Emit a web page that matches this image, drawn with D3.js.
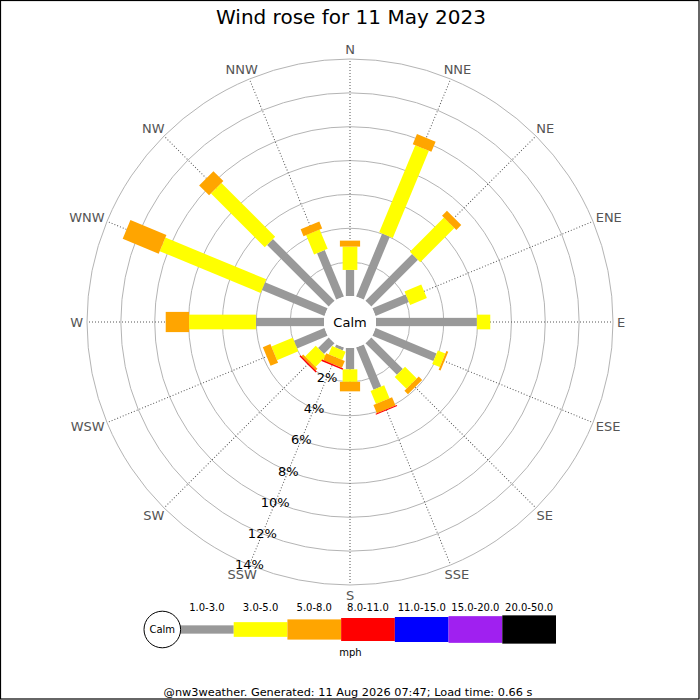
<!DOCTYPE html>
<html>
    <head>
        <title>Wind rose</title>
        <meta charset="utf-8">
        <style>
            html, body {
                margin: 0px;
                padding: 0px;
                background-color: #fff;
                font-family: "DejaVu Sans", sans-serif;
            }

            svg {
                display: block;
            }

            svg .ring {
                fill: none;
                stroke: #b4b4b4;
                stroke-width: 1px;
            }

            svg .spoke {
                stroke: #555;
                stroke-width: 1px;
                stroke-dasharray: 1, 2;
            }

            svg .dirLabel {
                fill: #555;
                font-size: 13px;
            }

            svg .pctLabel {
                fill: #000;
                font-size: 13px;
            }

            svg .legendLabel {
                fill: #000;
                font-size: 10px;
            }
        </style>
        <script src="https://cdn.jsdelivr.net/npm/d3@7"></script>
    </head>
    <body>
        <div id="main"></div>

        <script>
            // data, % of the day per direction and speed band
            var directions = ["N", "NNE", "NE", "ENE", "E", "ESE", "SE", "SSE",
                              "S", "SSW", "SW", "WSW", "W", "WNW", "NW", "NNW"];
            var speedBands = ["1.0-3.0", "3.0-5.0", "5.0-8.0", "8.0-11.0", "11.0-15.0", "15.0-20.0", "20.0-50.0"];
            var band1 = [1.54, 4.02, 3.90, 2.13, 5.96, 3.90, 2.63, 2.69, 1.26, 0.18, 0.89, 1.95, 4.02, 4.00, 5.15, 2.96];
            var band2 = [1.38, 5.57, 2.85, 1.07, 0.79, 0.48, 0.98, 0.83, 0.74, 0.53, 0.89, 1.36, 3.95, 6.45, 4.49, 1.24];
            var band3 = [0.35, 0.65, 0.41, 0.00, 0.00, 0.12, 0.29, 0.53, 0.56, 0.44, 0.14, 0.48, 1.38, 2.30, 0.83, 0.44];
            var band4 = [0.00, 0.00, 0.00, 0.00, 0.00, 0.00, 0.00, 0.06, 0.00, 0.09, 0.09, 0.00, 0.00, 0.00, 0.00, 0.00];
            var pctTicks = [2, 4, 6, 8, 10, 12, 14];

            var title = "Wind rose for 11 May 2023";
            var footer = "@nw3weather. Generated: 11 Aug 2026 07:47; Load time: 0.66 s";

            // styling
            var bandColors = ["#999999", "#ffff00", "#ffa500", "#ff0000", "#0000ff", "#a020f0", "#000000"];
            var bandWidths = [8.3, 14.7, 20.2, 23, 25, 26.7, 28.3];

            var width = 700;
            var height = 700;
            var cx = 350;
            var cy = 322;
            var calmRadius = 26;
            var outerRadius = 263;

            function rose(svg) {
                var keys = ["b1", "b2", "b3", "b4"];
                var table = directions.map(function(d, i) {
                    return { dir: d, b1: band1[i], b2: band2[i], b3: band3[i], b4: band4[i] };
                });
                var stacked = d3.stack().keys(keys)(table);

                var r = d3.scaleLinear()
                    .domain([0, d3.max(pctTicks)])
                    .range([calmRadius, outerRadius]);
                var angle = d3.scaleLinear()
                    .domain([0, directions.length])
                    .range([0, 360]);

                var g = svg.append("g")
                    .attr("transform", "translate(" + cx + "," + cy + ")");

                g.selectAll(".ring")
                    .data(pctTicks)
                    .enter()
                    .append("circle")
                    .attr("class", "ring")
                    .attr("r", function(d) { return r(d); });

                g.selectAll(".spoke")
                    .data(directions)
                    .enter()
                    .append("line")
                    .attr("class", "spoke")
                    .attr("transform", function(d, i) { return "rotate(" + angle(i) + ")"; })
                    .attr("y1", -calmRadius)
                    .attr("y2", -r(d3.max(pctTicks)));

                var layers = g.selectAll(".layer")
                    .data(stacked)
                    .enter()
                    .append("g")
                    .attr("class", "layer")
                    .attr("fill", function(d, k) { return bandColors[k]; });

                layers.selectAll("rect")
                    .data(function(d, k) {
                        return d.filter(function(s) { return s[1] - s[0] > 0; })
                                .map(function(s) { return { s: s, k: k, i: directions.indexOf(s.data.dir) }; });
                    })
                    .enter()
                    .append("rect")
                    .attr("transform", function(d) { return "rotate(" + angle(d.i) + ")"; })
                    .attr("x", function(d) { return -bandWidths[d.k] / 2; })
                    .attr("width", function(d) { return bandWidths[d.k]; })
                    .attr("y", function(d) { return -r(d.s[1]); })
                    .attr("height", function(d) { return r(d.s[1]) - r(d.s[0]); });

                g.append("circle")
                    .attr("r", calmRadius)
                    .attr("fill", "#fff");

                g.append("text")
                    .attr("text-anchor", "middle")
                    .attr("dominant-baseline", "central")
                    .style("font-size", "13px")
                    .text("Calm");

                // percentage labels along the SSW spoke
                var labelAngle = angle(directions.indexOf("SSW")) * Math.PI / 180;
                g.selectAll(".pctLabel")
                    .data(pctTicks)
                    .enter()
                    .append("text")
                    .attr("class", "pctLabel")
                    .attr("text-anchor", "middle")
                    .attr("dominant-baseline", "central")
                    .attr("x", function(d) { return Math.sin(labelAngle) * r(d); })
                    .attr("y", function(d) { return -Math.cos(labelAngle) * r(d); })
                    .text(function(d) { return d + "%"; });

                // compass labels just outside the rim
                var labelR = outerRadius + 4;
                g.selectAll(".dirLabel")
                    .data(directions)
                    .enter()
                    .append("text")
                    .attr("class", "dirLabel")
                    .attr("text-anchor", "middle")
                    .attr("dominant-baseline", "central")
                    .text(function(d) { return d; })
                    .each(function(d, i) {
                        var a = angle(i) * Math.PI / 180;
                        var w = this.getComputedTextLength();
                        d3.select(this)
                            .attr("x", Math.sin(a) * labelR + Math.sin(a) * w / 2)
                            .attr("y", -Math.cos(a) * labelR - Math.cos(a) * 6);
                    });
            }

            function legend(svg) {
                var x = d3.scaleBand()
                    .domain(speedBands)
                    .range([180, 556]);
                var midY = 629.5;

                var lg = svg.append("g");

                lg.selectAll("rect")
                    .data(speedBands)
                    .enter()
                    .append("rect")
                    .attr("x", function(d) { return x(d); })
                    .attr("width", x.bandwidth())
                    .attr("y", function(d, i) { return midY - bandWidths[i] / 2; })
                    .attr("height", function(d, i) { return bandWidths[i]; })
                    .attr("fill", function(d, i) { return bandColors[i]; });

                lg.selectAll(".legendLabel")
                    .data(speedBands)
                    .enter()
                    .append("text")
                    .attr("class", "legendLabel")
                    .attr("x", function(d) { return x(d) + x.bandwidth() / 2; })
                    .attr("y", 611)
                    .attr("text-anchor", "middle")
                    .text(function(d) { return d; });

                lg.append("circle")
                    .attr("cx", 162.3)
                    .attr("cy", midY)
                    .attr("r", 18.3)
                    .attr("fill", "#fff")
                    .attr("stroke", "#000");

                lg.append("text")
                    .attr("x", 162.3)
                    .attr("y", midY)
                    .attr("text-anchor", "middle")
                    .attr("dominant-baseline", "central")
                    .style("font-size", "10px")
                    .text("Calm");

                lg.append("text")
                    .attr("class", "legendLabel")
                    .attr("x", 350.5)
                    .attr("y", 656)
                    .attr("text-anchor", "middle")
                    .text("mph");
            }

            function main() {
                var svg = d3.select("#main")
                    .append("svg")
                    .attr("width", width)
                    .attr("height", height);

                svg.append("rect")
                    .attr("width", width)
                    .attr("height", height)
                    .attr("fill", "#fff");

                rose(svg);
                legend(svg);

                svg.append("text")
                    .attr("x", 351)
                    .attr("y", 24)
                    .attr("text-anchor", "middle")
                    .style("font-size", "20px")
                    .attr("fill", "#000")
                    .text(title);

                svg.append("text")
                    .attr("x", 348)
                    .attr("y", 696)
                    .attr("text-anchor", "middle")
                    .style("font-size", "11.3px")
                    .attr("fill", "#000")
                    .text(footer);

                svg.append("rect")
                    .attr("x", 0.5)
                    .attr("y", 0.5)
                    .attr("width", width - 1.5)
                    .attr("height", height - 1.5)
                    .attr("fill", "none")
                    .attr("stroke", "#000")
                    .attr("stroke-width", 1.2);
            }

            main();
        </script>
    </body>
</html>
